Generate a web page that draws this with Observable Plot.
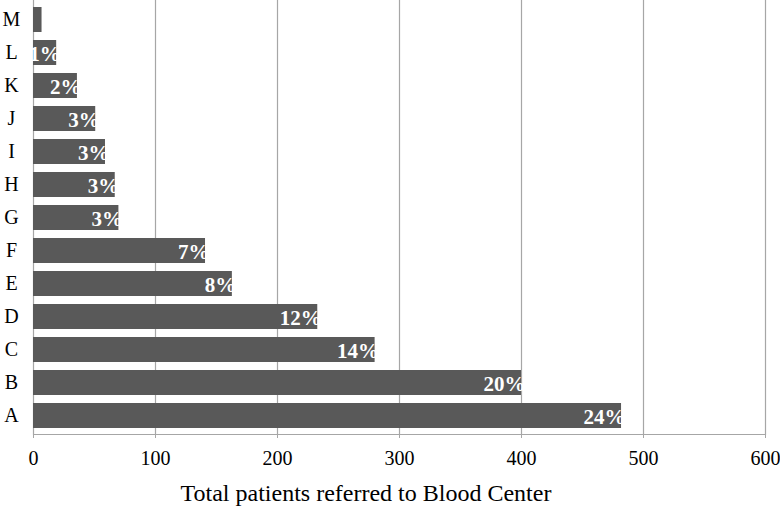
<!DOCTYPE html>
<html>
<head>
<meta charset="utf-8">
<script src="https://cdn.jsdelivr.net/npm/d3@7"></script>
<script src="https://cdn.jsdelivr.net/npm/@observablehq/plot@0.6"></script>
<style>
  html, body { margin: 0; padding: 0; background: #fff; }
  #chart { width: 780px; height: 508px; }
</style>
</head>
<body>
<div id="chart"></div>
<script>
const categories = ["M", "L", "K", "J", "I", "H", "G", "F", "E", "D", "C", "B", "A"];
const values = [7, 19, 36, 51, 59, 67, 70, 141, 163, 233, 280, 400, 482];
const percentLabels = ["", "1%", "2%", "3%", "3%", "3%", "3%", "7%", "8%", "12%", "14%", "20%", "24%"];
const xTicks = [0, 100, 200, 300, 400, 500, 600];

const data = categories.map((c, i) => ({ name: c, value: values[i], label: percentLabels[i] }));
const gridColor = "#a6a6a6";

const chart = Plot.plot({
  width: 780,
  height: 508,
  marginLeft: 33,
  marginRight: 15,
  marginTop: 0,
  marginBottom: 74,
  style: { fontFamily: "'Liberation Serif', 'DejaVu Serif', serif", background: "#fff", overflow: "visible" },
  x: { domain: [0, 600], ticks: xTicks, label: null },
  y: { domain: categories, paddingInner: 0.25, paddingOuter: 0.12, label: null },
  marks: [
    Plot.ruleX(xTicks, { stroke: gridColor, strokeWidth: 1.2 }),
    Plot.frame({ anchor: "bottom", stroke: gridColor, strokeWidth: 1.2 }),
    Plot.barX(data, { x: "value", y: "name", fill: "#595959" }),
    Plot.text(data, {
      x: "value", y: "name", text: "label",
      textAnchor: "end", dx: 4, dy: 1,
      fill: "white", fontSize: 21, fontWeight: "bold"
    }),
    Plot.axisX({
      ticks: xTicks, tickSize: 4, stroke: gridColor, tickPadding: 12,
      fontSize: 20, fill: "#000", label: null
    }),
    Plot.axisY({
      tickSize: 0, tickPadding: 22, textAnchor: "middle",
      fontSize: 20, fill: "#000", label: null
    })
  ]
});

document.getElementById("chart").appendChild(chart);

const title = document.createElement("div");
title.textContent = "Total patients referred to Blood Center";
Object.assign(title.style, {
  position: "absolute", left: "166px", width: "400px", top: "479px",
  textAlign: "center", fontFamily: "'Liberation Serif', 'DejaVu Serif', serif",
  fontSize: "24px", lineHeight: "28px", color: "#000", whiteSpace: "nowrap"
});
document.body.appendChild(title);
</script>
</body>
</html>
